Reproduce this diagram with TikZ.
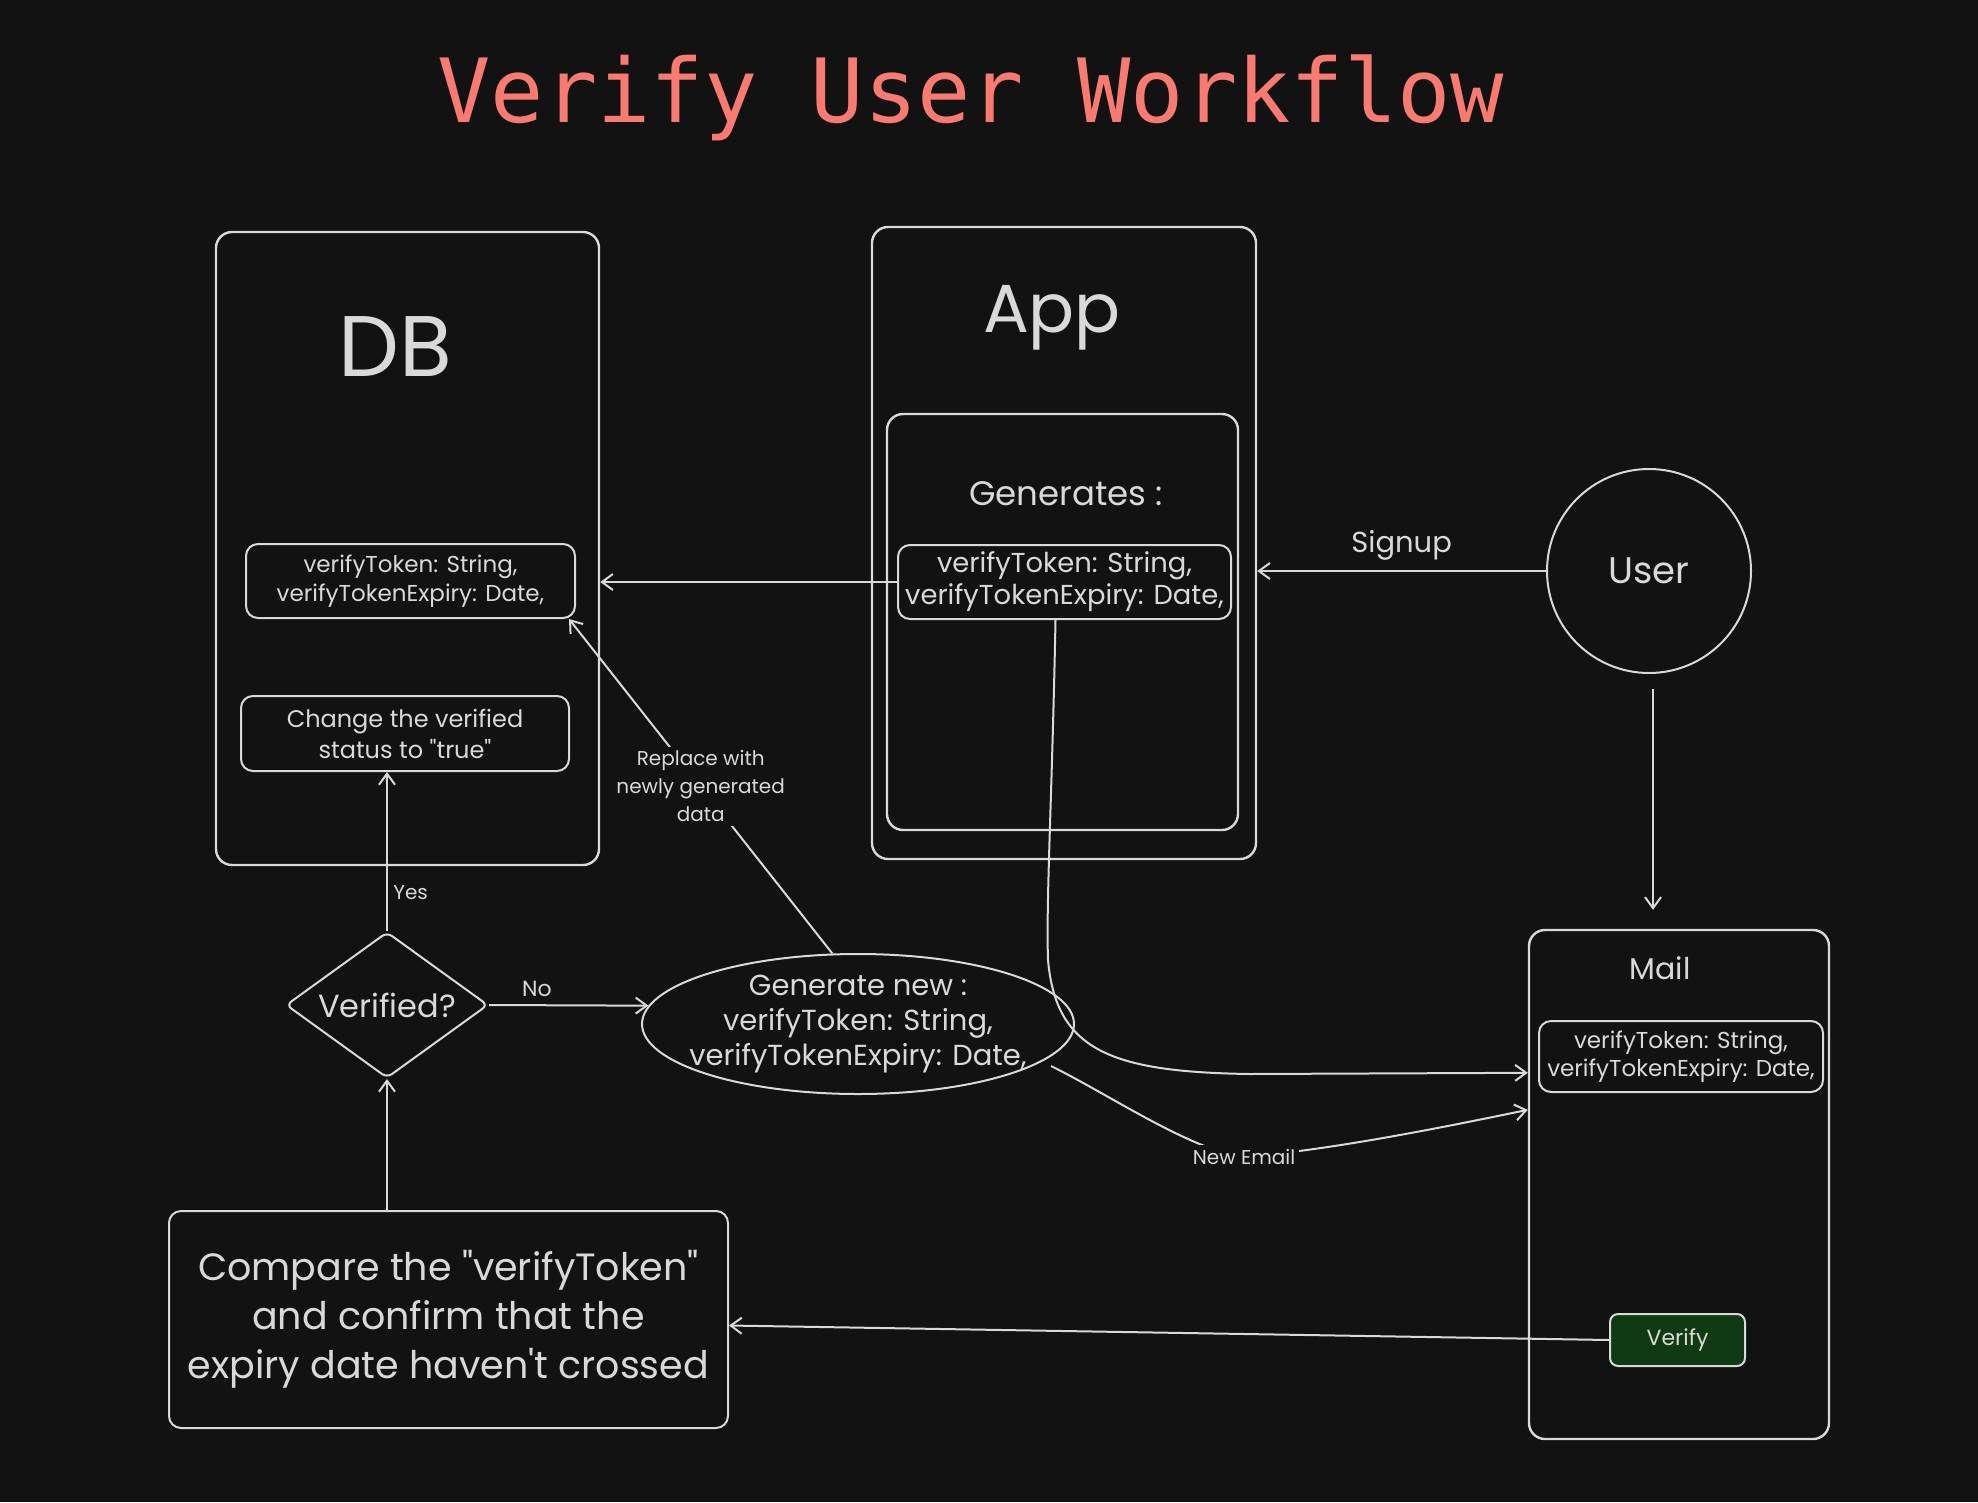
\documentclass[tikz,border=0pt]{standalone}
\usepackage{fontspec}
\setmainfont{Poppins}[Ligatures=TeXOff]
\newfontfamily\titlefont{DejaVu Sans Mono}
\usetikzlibrary{arrows.meta,shapes.geometric,calc}
\definecolor{bg}{HTML}{121212}
\definecolor{fg}{HTML}{D9D9D9}
\definecolor{salmon}{HTML}{F87A70}
\definecolor{btn}{HTML}{0F3A12}
\newcommand{\fsz}[2]{\fontsize{#1}{#2}\selectfont}

\begin{document}
\begin{tikzpicture}[x=1pt, y=-1pt, color=fg,
    container/.style = {draw, rounded corners=16pt, line width=2.4pt, inner sep=0pt},
    box/.style = {draw, rounded corners=12pt, line width=2pt, inner sep=0pt, align=center},
    lbl/.style = {inner sep=2pt, align=center},
    gap/.style = {fill=bg, inner sep=4pt, align=center},
    arr/.style = {-{Straight Barb[length=11pt,width=16pt]}, line width=2pt}]
    \fill[bg] (0,0) rectangle (1978,1502);
    \node[font=\titlefont\fsz{88.6}{100}, text=salmon, anchor=base] (0) at (971,122) {Verify User Workflow};

    \node[container, minimum width=383pt, minimum height=633pt] (1) at (407.5,548.5) {};
    \node[container, minimum width=384pt, minimum height=632pt] (2) at (1064,543) {};
    \node[container, minimum width=351pt, minimum height=416pt] (3) at (1062.5,622) {};
    \node[container, minimum width=300pt, minimum height=509pt] (8) at (1679,1184.5) {};
    \node[font=\fsz{86}{98}, anchor=base] (15) at (395,376) {DB};
    \node[font=\fsz{68}{80}, anchor=base] (16) at (1052,332) {App};
    \node[font=\fsz{34}{40}, anchor=base] (17) at (1066,505) {Generates :};
    \node[font=\fsz{30}{36}, anchor=base] (18) at (1660,979) {Mail};

    \node[box, minimum width=329pt, minimum height=74pt, font=\fsz{23}{29}] (5) at (410.5,581) {verifyToken: String,\\verifyTokenExpiry: Date,};
    \node[box, minimum width=333pt, minimum height=74pt, font=\fsz{27.4}{32}] (4) at (1064.5,582) {verifyToken: String,\\verifyTokenExpiry: Date,};
    \node[box, minimum width=284pt, minimum height=71pt, font=\fsz{23}{28}] (9) at (1681,1056.5) {verifyToken: String,\\verifyTokenExpiry: Date,};
    \node[box, minimum width=328pt, minimum height=75pt, font=\fsz{24}{31}] (6) at (405,733.5) {Change the verified\\status to "true"};
    \node[box, fill=btn, rounded corners=8pt, minimum width=135pt, minimum height=52pt, font=\fsz{22}{26}] (10) at (1677.5,1340) {Verify};
    \node[box, minimum width=559pt, minimum height=217pt, font=\fsz{38}{49}] (13) at (448.5,1319.5) {Compare the "verifyToken"\\and confirm that the\\expiry date haven't crossed};

    \node[draw, diamond, aspect=1.38, minimum width=202pt, minimum height=146pt, inner sep=0pt, rounded corners=6pt, line width=2pt, font=\fsz{32}{38}] (11) at (387,1005) {Verified?};
    \node[draw, ellipse, minimum width=432pt, minimum height=140pt, line width=2pt] (12) at (858,1024) {};
    \node[lbl, font=\fsz{29}{35}] (14) at (12) {Generate new :\\verifyToken: String,\\verifyTokenExpiry: Date,};
    \node[draw, circle, minimum size=204pt, line width=2pt, font=\fsz{37}{44}] (7) at (1649,571) {User};

    \draw[arr] (4.west) -- (4.west -| 1.east);
    \draw[arr] (7.west) -- node[above=6pt, font=\fsz{29}{35}] (19) {Signup} (7.west -| 2.east);
    \draw[arr, shorten <=15pt, shorten >=19pt] ([xshift=4pt]7.south) -- ([xshift=4pt]7.south |- 8.north);
    \draw[arr] (11.north) -- node[pos=0.24, right=2pt, font=\fsz{20}{24}] (20) {Yes} (11.north |- 6.south);
    \draw[arr] (11.east) -- node[pos=0.3, above=4pt, font=\fsz{22}{26}] (21) {No} (12.175);
    \draw[arr] (11.south |- 13.north) -- (11.south);
    \draw[arr] (10.west) -- ([yshift=-6pt]13.east);
    \draw[arr] (12.110) -- node[gap, font=\fsz{20}{28}] (22) {Replace with\\newly generated\\data} ([xshift=-7pt]5.south east);
    \draw[arr] ([xshift=-9pt]4.south) .. controls (1052,800) and (1046,900) .. (1048,960) .. controls (1056,1050) and (1110,1072) .. (1250,1074) -- ($(8.north west)+(0,144)$);
    \draw[arr] ($(12)+(193,42)$) .. controls (1110,1095) and (1190,1150) .. (1244,1157) node[gap, font=\fsz{20}{24}] (23) {New Email} .. controls (1330,1150) and (1440,1128) .. ($(8.north west)+(0,181)$);
\end{tikzpicture}
\end{document}
